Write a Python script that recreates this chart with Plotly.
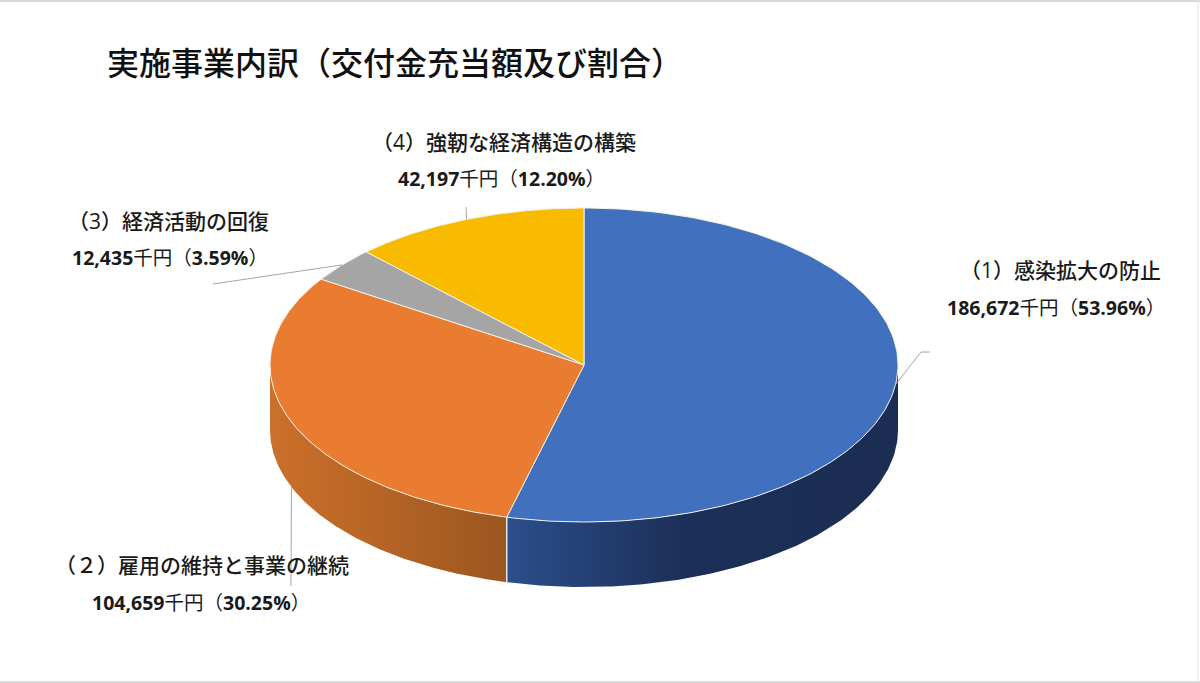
import numpy as np
import plotly.graph_objects as go

# values in 千円, clockwise from 12 o'clock
names = ["（1）感染拡大の防止", "（２）雇用の維持と事業の継続", "（3）経済活動の回復", "（4）強靭な経済構造の構築"]
amounts = [186672, 104659, 12435, 42197]
amount_labels = ["186,672", "104,659", "12,435", "42,197"]
percent_labels = ["53.96%", "30.25%", "3.59%", "12.20%"]
top_colors = ["#4170BF", "#E97C30", "#A5A5A5", "#F9BB00"]
title_text = "実施事業内訳（交付金充当額及び割合）"

# layout of the picture, in pixels
CX, CY = 584, 365
RX, RY = 314, 157
DEPTH = 65
name_pos = [(1060, 270), (202, 565), (168, 221), (504, 142)]
amount_pos = [(1056, 307), (201, 602), (170, 257), (501, 178)]
leader_ends = [[(921, 352), (930, 352)], [(291, 586)], [(213, 284)], [(466, 207)]]
leader_drop = [0, DEPTH, 0, 0]

FONT = "Open Sans, Noto Sans CJK JP"
INK = "#1A1A1A"


def ellipse(angle, shift=0):
    rad = np.radians(angle)
    return CX + RX * np.sin(rad), CY - RY * np.cos(rad) + shift


def slice_angles():
    cum = np.cumsum([0] + amounts) / sum(amounts) * 360
    return cum[:-1], cum[1:]


def add_side(fig, start, stop, scale):
    ang = np.linspace(start, stop, 120)
    x_top, y_top = ellipse(ang)
    x_bot, y_bot = ellipse(ang[::-1], DEPTH)
    fig.add_trace(
        go.Scatter(
            x=np.concatenate([x_top, x_bot]),
            y=np.concatenate([y_top, y_bot]),
            mode="lines",
            fill="toself",
            fillgradient=dict(type="horizontal", colorscale=scale),
            line=dict(width=0),
            hoverinfo="skip",
        )
    )


def draw_pie(fig):
    starts, stops = slice_angles()

    # only the front half of the rim can be seen
    add_side(fig, 90, stops[0], [[0, "#2C4E8C"], [0.45, "#1C2F58"], [1, "#1B2D52"]])
    add_side(fig, stops[0], 270, [[0, "#CC702B"], [1, "#9C561F"]])

    x_sep, y_sep = ellipse(stops[0])
    fig.add_trace(
        go.Scatter(
            x=[x_sep, x_sep],
            y=[y_sep, y_sep + DEPTH],
            mode="lines",
            line=dict(color="#E8E8E8", width=1.5),
            hoverinfo="skip",
        )
    )

    for start, stop, color in zip(starts, stops, top_colors):
        ang = np.linspace(start, stop, 180)
        x, y = ellipse(ang)
        fig.add_trace(
            go.Scatter(
                x=np.concatenate([[CX], x, [CX]]),
                y=np.concatenate([[CY], y, [CY]]),
                mode="lines",
                fill="toself",
                fillcolor=color,
                line=dict(color="#F4F0E8", width=1),
                hoverinfo="skip",
            )
        )


def draw_labels(fig):
    starts, stops = slice_angles()
    for i in range(len(names)):
        x0, y0 = ellipse((starts[i] + stops[i]) / 2, leader_drop[i])
        path = [(x0, y0)] + leader_ends[i]
        fig.add_trace(
            go.Scatter(
                x=[p[0] for p in path],
                y=[p[1] for p in path],
                mode="lines",
                line=dict(color="#A6A6A6", width=1),
                hoverinfo="skip",
            )
        )
        fig.add_annotation(
            x=name_pos[i][0],
            y=name_pos[i][1],
            text=names[i],
            showarrow=False,
            font=dict(family=FONT, size=21, color=INK, weight=500),
        )
        fig.add_annotation(
            x=amount_pos[i][0],
            y=amount_pos[i][1],
            text=f"<b>{amount_labels[i]}</b>千円（<b>{percent_labels[i]}</b>）",
            showarrow=False,
            font=dict(family=FONT, size=19.5, color=INK),
        )


fig = go.Figure()
draw_pie(fig)
draw_labels(fig)

fig.add_annotation(
    x=105,
    y=62,
    text=title_text,
    xanchor="left",
    showarrow=False,
    font=dict(family=FONT, size=32, color="#111111", weight=500),
)

fig.update_xaxes(range=[0, 1200], visible=False, fixedrange=True)
fig.update_yaxes(range=[683, 0], visible=False, fixedrange=True)
fig.update_layout(
    width=1200,
    height=683,
    margin=dict(l=0, r=0, t=0, b=0),
    showlegend=False,
    paper_bgcolor="white",
    plot_bgcolor="white",
    shapes=[
        dict(type="line", x0=0, x1=1200, y0=1, y1=1, line=dict(color="#D9D9D9", width=2)),
        dict(type="line", x0=0, x1=1200, y0=682, y1=682, line=dict(color="#D9D9D9", width=2)),
        dict(type="line", x0=1198, x1=1198, y0=0, y1=683, line=dict(color="#E4E4E4", width=1)),
    ],
)

# the page has a default body margin that would push the chart 8px over
fig.write_html(
    "out.html",
    config={"displayModeBar": False},
    post_script="document.body.style.margin = '0';",
)
